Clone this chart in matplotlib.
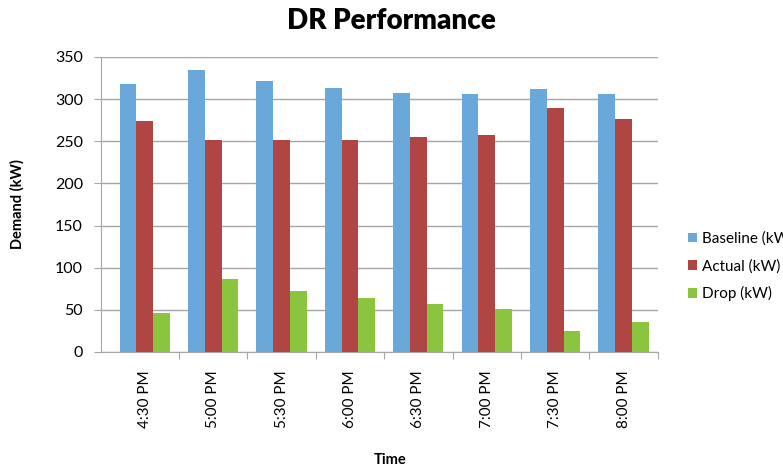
import matplotlib.pyplot as plt
import numpy as np

plt.rcParams['font.family'] = ['Lato', 'DejaVu Sans']

times = ['4:30 PM', '5:00 PM', '5:30 PM', '6:00 PM', '6:30 PM', '7:00 PM', '7:30 PM', '8:00 PM']
baseline = [318, 334, 322, 313, 307, 306, 312, 306]
actual = [274, 251, 251, 251, 255, 258, 289, 276]
drop = [46, 87, 72, 64, 57, 51, 25, 35]

series = [('Baseline (kW)', baseline, '#6aa8d9'),
          ('Actual (kW)', actual, '#b04644'),
          ('Drop (kW)', drop, '#8bc43f')]

fig = plt.figure(figsize=(7.83, 4.71), dpi=100)
ax = fig.add_axes([0.129, 0.2527, 0.711, 0.6263])

x = np.arange(len(times))
w = 0.245
for i, (name, vals, col) in enumerate(series):
    ax.bar(x + (i - 1) * w, vals, width=w, color=col, label=name, zorder=3)

ax.set_ylim(0, 350)
ax.set_yticks(range(0, 351, 50))
ax.set_xlim(-0.64, 7.5)
ax.grid(axis='y', color='#a6a6a6', linewidth=1.0, zorder=0)

# category boundaries get the tick marks, labels sit at the centres
ax.set_xticks(np.arange(0.5, 7.6, 1))
ax.set_xticklabels([])
ax.set_xticks(x, minor=True)
ax.set_xticklabels(times, minor=True, rotation=90, fontsize=11)
ax.tick_params(axis='x', which='major', length=5, color='#a6a6a6', direction='out')
ax.tick_params(axis='x', which='minor', length=0, pad=13)
ax.tick_params(axis='y', length=5, color='#a6a6a6', labelsize=11.5, pad=8)

for s in ['top', 'right']:
    ax.spines[s].set_visible(False)
for s in ['left', 'bottom']:
    ax.spines[s].set_color('#a6a6a6')

ax.set_ylabel('Demand (kW)', fontsize=10.5, fontweight='bold', labelpad=22)
fig.text(0.498, 0.008, 'Time', ha='center', va='bottom', fontsize=10.5, fontweight='bold')
fig.text(0.5, 0.955, 'DR Performance', ha='center', va='center', fontsize=20, fontweight='heavy')

ax.legend(loc='center left', bbox_to_anchor=(1.03, 0.29), frameon=False,
          fontsize=11, handlelength=0.6, handleheight=0.6, handletextpad=0.3,
          labelspacing=0.85)

fig.savefig('out.png', dpi=100)
